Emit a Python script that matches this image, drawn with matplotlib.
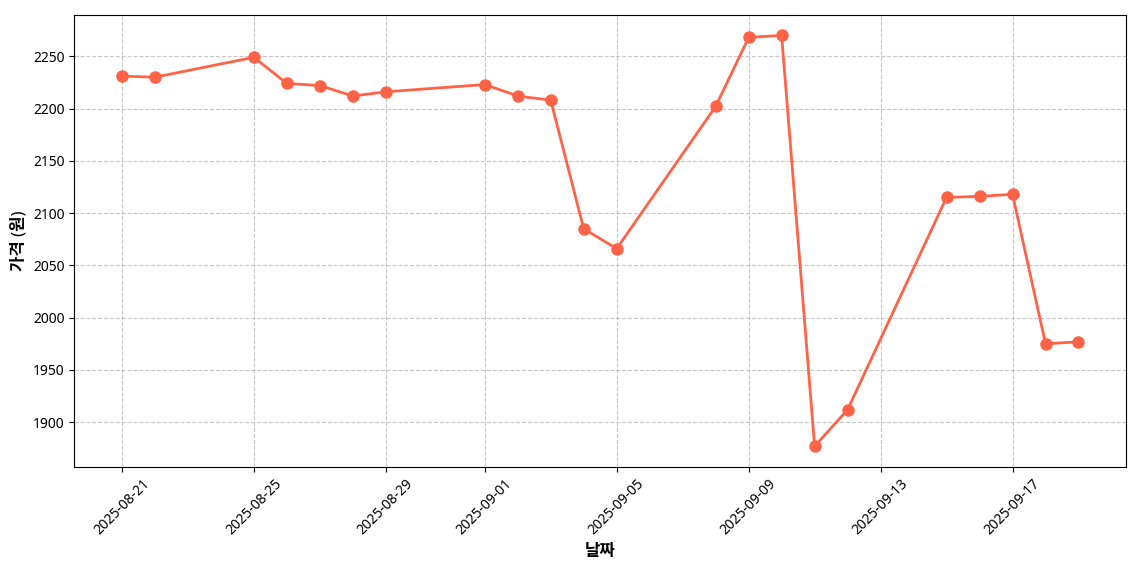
import pandas as pd
import matplotlib
matplotlib.use("Agg")
from matplotlib import pyplot as plt

plt.rcParams['font.family'] = ['Noto Sans', 'Noto Sans CJK KR', 'DejaVu Sans']

dates = ["2025-08-21", "2025-08-22", "2025-08-25", "2025-08-26", "2025-08-27",
         "2025-08-28", "2025-08-29", "2025-09-01", "2025-09-02", "2025-09-03",
         "2025-09-04", "2025-09-05", "2025-09-08", "2025-09-09", "2025-09-10",
         "2025-09-11", "2025-09-12", "2025-09-15", "2025-09-16", "2025-09-17",
         "2025-09-18", "2025-09-19"]
prices = [2231, 2230, 2249, 2224, 2222, 2212, 2216, 2223, 2212, 2208,
          2085, 2066, 2202, 2268, 2270, 1877, 1912, 2115, 2116, 2118,
          1975, 1977]

x = pd.to_datetime(dates)

fig, ax = plt.subplots(figsize=(11.4, 5.7), dpi=100)
ax.plot(x, prices, color='#FF6347', marker='o', markersize=8, linewidth=2)

ax.set_xlabel("날짜", fontsize=12, fontweight='bold')
ax.set_ylabel("가격 (원)", fontsize=12, fontweight='bold')
ax.grid(True, linestyle='--', alpha=0.7)
plt.xticks(rotation=45)

plt.subplots_adjust(left=0.065, right=0.988, top=0.974, bottom=0.181)
plt.savefig("out.png")
